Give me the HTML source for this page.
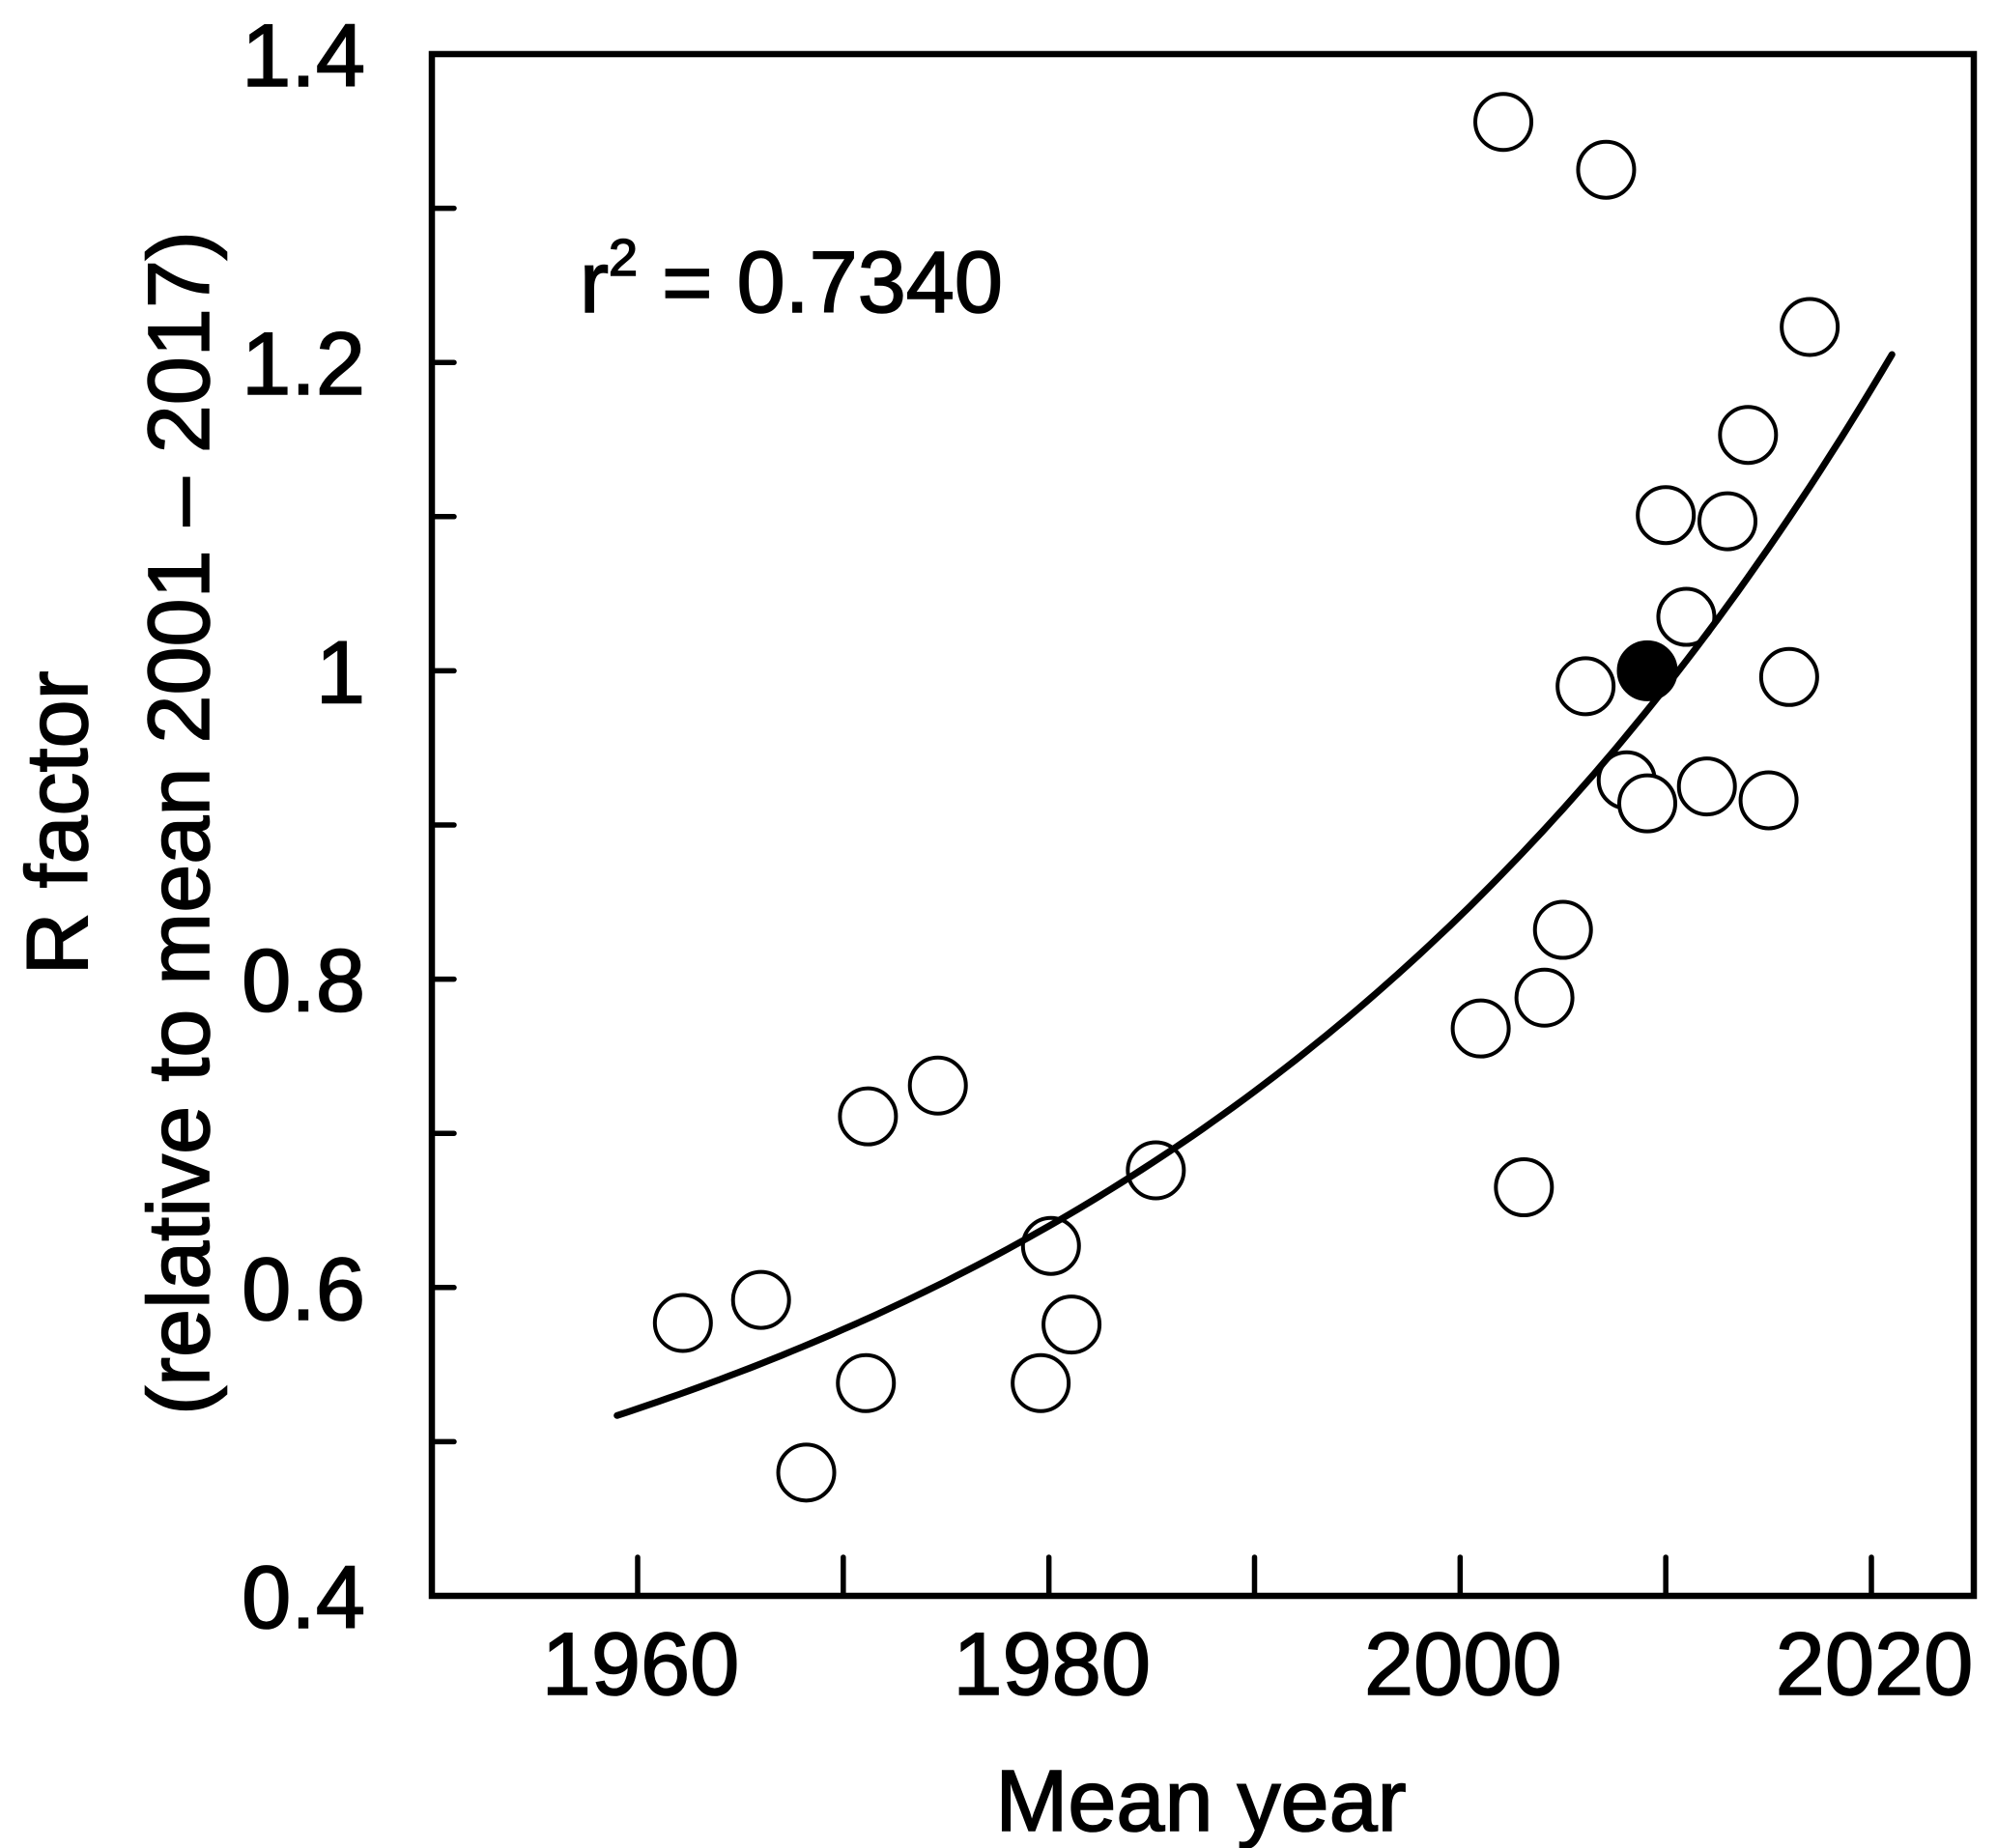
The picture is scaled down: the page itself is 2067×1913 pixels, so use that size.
<!DOCTYPE html>
<html><head><meta charset="utf-8"><style>
html,body{margin:0;padding:0;background:#fff}
svg{display:block;font-family:"Liberation Sans",Arial,sans-serif}
text{stroke:#000;stroke-width:1.6px}
</style></head><body>
<svg id="chart" width="2067" height="1913" viewBox="0 0 2067 1913" xmlns="http://www.w3.org/2000/svg">
<g id="axes"></g>
<g id="marks"></g>
<text x="600" y="323" font-size="90">r<tspan font-size="54" dy="-38">2</tspan><tspan dy="38"> = 0.7340</tspan></text>
<text x="1243" y="1895" font-size="90" text-anchor="middle">Mean year</text>
<text transform="translate(90,852) rotate(-90)" font-size="90" text-anchor="middle">R factor</text>
<text transform="translate(216,852) rotate(-90)" font-size="90" text-anchor="middle">(relative to mean 2001 – 2017)</text>
</svg>
<script>
const years = [1962.2,1966.0,1968.2,1971.1,1971.2,1974.6,1979.6,1980.1,1981.1,1985.2,2001.0,2002.1,2003.1,2004.1,2005.0,2006.1,2007.1,2008.1,2009.1,2010.0,2011.0,2012.0,2013.0,2014.0,2015.0,2016.0,2017.0];
const rFactor = [0.577,0.592,0.480,0.538,0.711,0.731,0.538,0.627,0.576,0.676,0.768,1.356,0.665,0.788,0.832,0.990,1.325,0.929,0.914,1.101,1.035,0.925,1.097,1.153,0.916,0.996,1.223];
const highlightYear = [2009.1];
const highlightValue = [1.0];
const fitParams = [0.352, 0.165, 0.0265, 1959]; // a + b*exp(k*(t-t0))
const fitRange = [1959, 2021];
const xTicks = [1960,1970,1980,1990,2000,2010,2020];
const xTickLabels = ["1960","","1980","","2000","","2020"];
const yTicks = [0.4,0.5,0.6,0.7,0.8,0.9,1.0,1.1,1.2,1.3,1.4];
const yTickLabels = ["0.4","","0.6","","0.8","","1","","1.2","","1.4"];

const NS="http://www.w3.org/2000/svg";
const L=447,R=2043,T=56,B=1652;
const xs=v=>660+(v-1960)*(1937-660)/60;
const ys=v=>B-(v-0.4)*(B-T)/1.0;
function mk(tag,attrs,parent){const e=document.createElementNS(NS,tag);for(const k in attrs)e.setAttribute(k,attrs[k]);parent.appendChild(e);return e;}
const axes=document.getElementById('axes'), marks=document.getElementById('marks');

const frame=mk('rect',{x:L,y:T,width:R-L,height:B-T,fill:'none',stroke:'#000','stroke-width':6.5},axes);



xTicks.forEach((t,i)=>{
  const ln=mk('line',{x1:xs(t),x2:xs(t),y1:B,y2:B-40,stroke:'#000','stroke-width':5.5,'stroke-linecap':'round'},axes);
  
  
  if(xTickLabels[i]){
    const tx=mk('text',{x:xs(t)+3,y:1754,'font-size':92,'text-anchor':'middle'},axes);
    tx.textContent=xTickLabels[i];
    
    
  }
});
yTicks.forEach((t,i)=>{
  const ln=mk('line',{x1:L,x2:L+23,y1:ys(t),y2:ys(t),stroke:'#000','stroke-width':5.5,'stroke-linecap':'round'},axes);
  
  
  if(yTickLabels[i]){
    const tx=mk('text',{x:378,y:ys(t)+33,'font-size':92,'text-anchor':'end'},axes);
    tx.textContent=yTickLabels[i];
    
    
  }
});

let d='';
for(let t=fitRange[0];t<=fitRange[1]+1e-9;t+=0.5){
  const v=fitParams[0]+fitParams[1]*Math.exp(fitParams[2]*(t-fitParams[3]));
  d+=(d?'L':'M')+xs(t).toFixed(1)+','+ys(v).toFixed(1);
}
years.forEach((yr,i)=>{
  const c=mk('circle',{cx:xs(yr),cy:ys(rFactor[i]),r:29,fill:'#fff',stroke:'#000','stroke-width':4},marks);
  
  
});
const fit=mk('path',{d:d,fill:'none',stroke:'#000','stroke-width':7,'stroke-linecap':'round'},marks);


highlightYear.forEach((yr,i)=>{
  const c=mk('circle',{cx:xs(yr),cy:ys(highlightValue[i]),r:30,fill:'#000',stroke:'#000','stroke-width':3},marks);
  
  
});
</script>
</body></html>
